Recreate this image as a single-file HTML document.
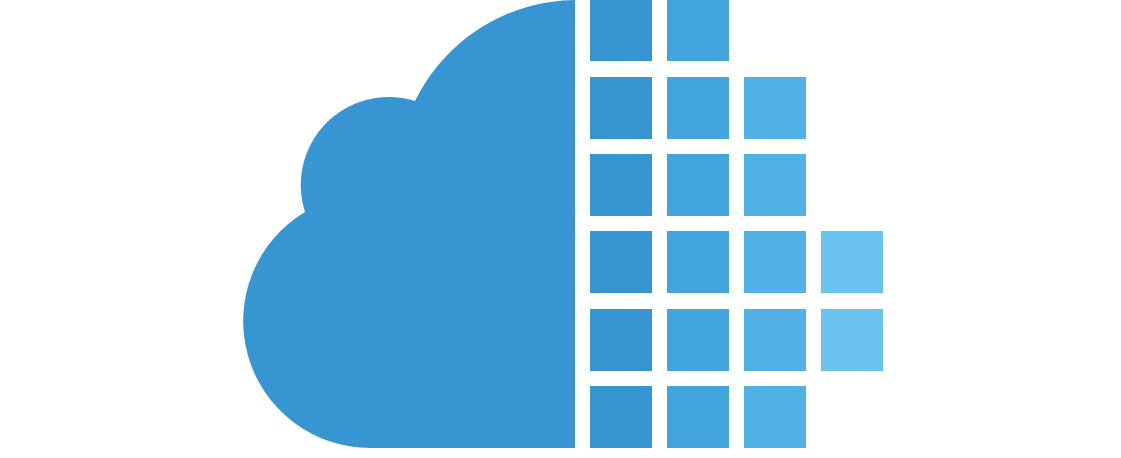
<!DOCTYPE html>
<html><head><style>html,body{margin:0;padding:0;background:#fff;width:1121px;height:458px;overflow:hidden}</style></head>
<body>
<svg width="1121" height="458" viewBox="0 0 1121 458" xmlns="http://www.w3.org/2000/svg">
<path d="M575 0 L575 448 L370 448 A127 127 0 0 1 305 212 A88 88 0 0 1 415 101 A180 180 0 0 1 575 0 Z" fill="#3796d1"/>
<g fill="#3796d1">
<rect x="590" y="0" width="62" height="61"/><rect x="590" y="77" width="62" height="62"/><rect x="590" y="154" width="62" height="62"/><rect x="590" y="231" width="62" height="62"/><rect x="590" y="309" width="62" height="62"/><rect x="590" y="386" width="62" height="62"/>
</g>
<g fill="#42a5dd">
<rect x="667" y="0" width="62" height="61"/><rect x="667" y="77" width="62" height="62"/><rect x="667" y="154" width="62" height="62"/><rect x="667" y="231" width="62" height="62"/><rect x="667" y="309" width="62" height="62"/><rect x="667" y="386" width="62" height="62"/>
</g>
<g fill="#53b2e5">
<rect x="744" y="77" width="62" height="62"/><rect x="744" y="154" width="62" height="62"/><rect x="744" y="231" width="62" height="62"/><rect x="744" y="309" width="62" height="62"/><rect x="744" y="386" width="62" height="62"/>
</g>
<g fill="#6bc4ef">
<rect x="821" y="231" width="62" height="62"/><rect x="821" y="309" width="62" height="62"/>
</g>
</svg>
</body></html>
